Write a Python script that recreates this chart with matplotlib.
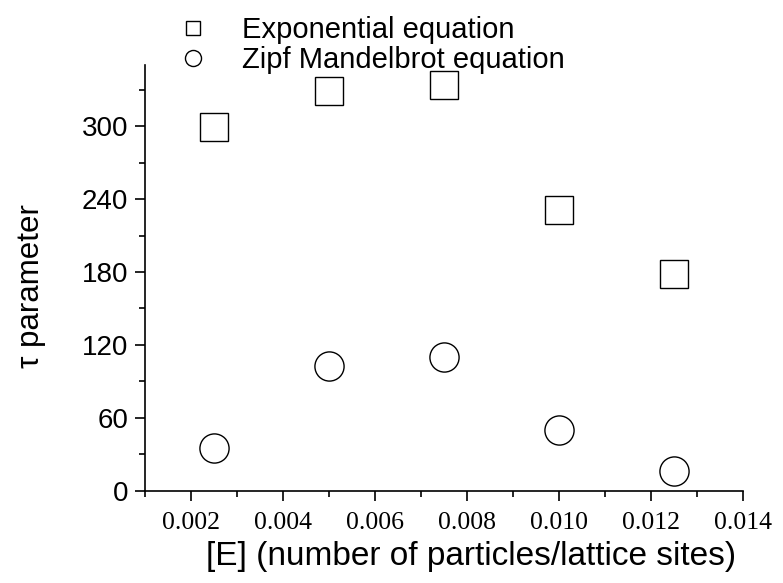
import numpy as np
import matplotlib
matplotlib.use("Agg")
import matplotlib.pyplot as plt
from matplotlib.ticker import MultipleLocator, FormatStrFormatter

# concentration [E]
conc = [0.0025, 0.005, 0.0075, 0.010, 0.0125]
# tau parameter for each fit
tau_exp = [299, 329, 334, 231, 178]
tau_zm = [35, 103, 110, 50, 16]

plt.rcParams['font.family'] = ['Liberation Sans', 'DejaVu Sans']

fig = plt.figure(figsize=(7.83, 5.83), dpi=100)
ax = fig.add_axes([0.185, 0.158, 0.764, 0.73])

ax.plot(conc, tau_exp, linestyle='none', marker='s', markersize=19.5,
        markerfacecolor='white', markeredgecolor='black', markeredgewidth=1.0,
        label='Exponential equation')
ax.plot(conc, tau_zm, linestyle='none', marker='o', markersize=21,
        markerfacecolor='white', markeredgecolor='black', markeredgewidth=1.0,
        label='Zipf Mandelbrot equation')

ax.set_xlim(0.001, 0.014)
ax.set_ylim(0, 350)
ax.spines['top'].set_visible(False)
ax.spines['right'].set_visible(False)
ax.spines['left'].set_linewidth(1.2)
ax.spines['bottom'].set_linewidth(1.2)

ax.set_xticks([0.002, 0.004, 0.006, 0.008, 0.010, 0.012, 0.014])
ax.xaxis.set_minor_locator(MultipleLocator(0.001))
ax.xaxis.set_major_formatter(FormatStrFormatter('%.3f'))
ax.yaxis.set_major_locator(MultipleLocator(60))
ax.yaxis.set_minor_locator(MultipleLocator(30))

ax.tick_params(axis='both', which='major', direction='out', length=7, width=1.2)
ax.tick_params(axis='both', which='minor', direction='out', length=4.5, width=1.2)
ax.tick_params(axis='y', labelsize=20, pad=5)
ax.tick_params(axis='x', labelsize=18.5, pad=8)
for lab in ax.get_xticklabels():
    lab.set_family('Liberation Serif')

ax.set_xlabel('[E] (number of particles/lattice sites)', fontsize=24, labelpad=5)
ax.set_ylabel('\u03c4 parameter', fontsize=22.5, labelpad=26)
ax.xaxis.label.set_x(0.545)
ax.yaxis.label.set_y(0.481)

leg = fig.legend(loc='upper left', bbox_to_anchor=(0.2278, 0.972), frameon=False,
                 fontsize=21, markerscale=0.55, handlelength=1.0,
                 handletextpad=1.17, labelspacing=0.05, borderpad=0,
                 borderaxespad=0)

fig.savefig('out.png', dpi=100)
